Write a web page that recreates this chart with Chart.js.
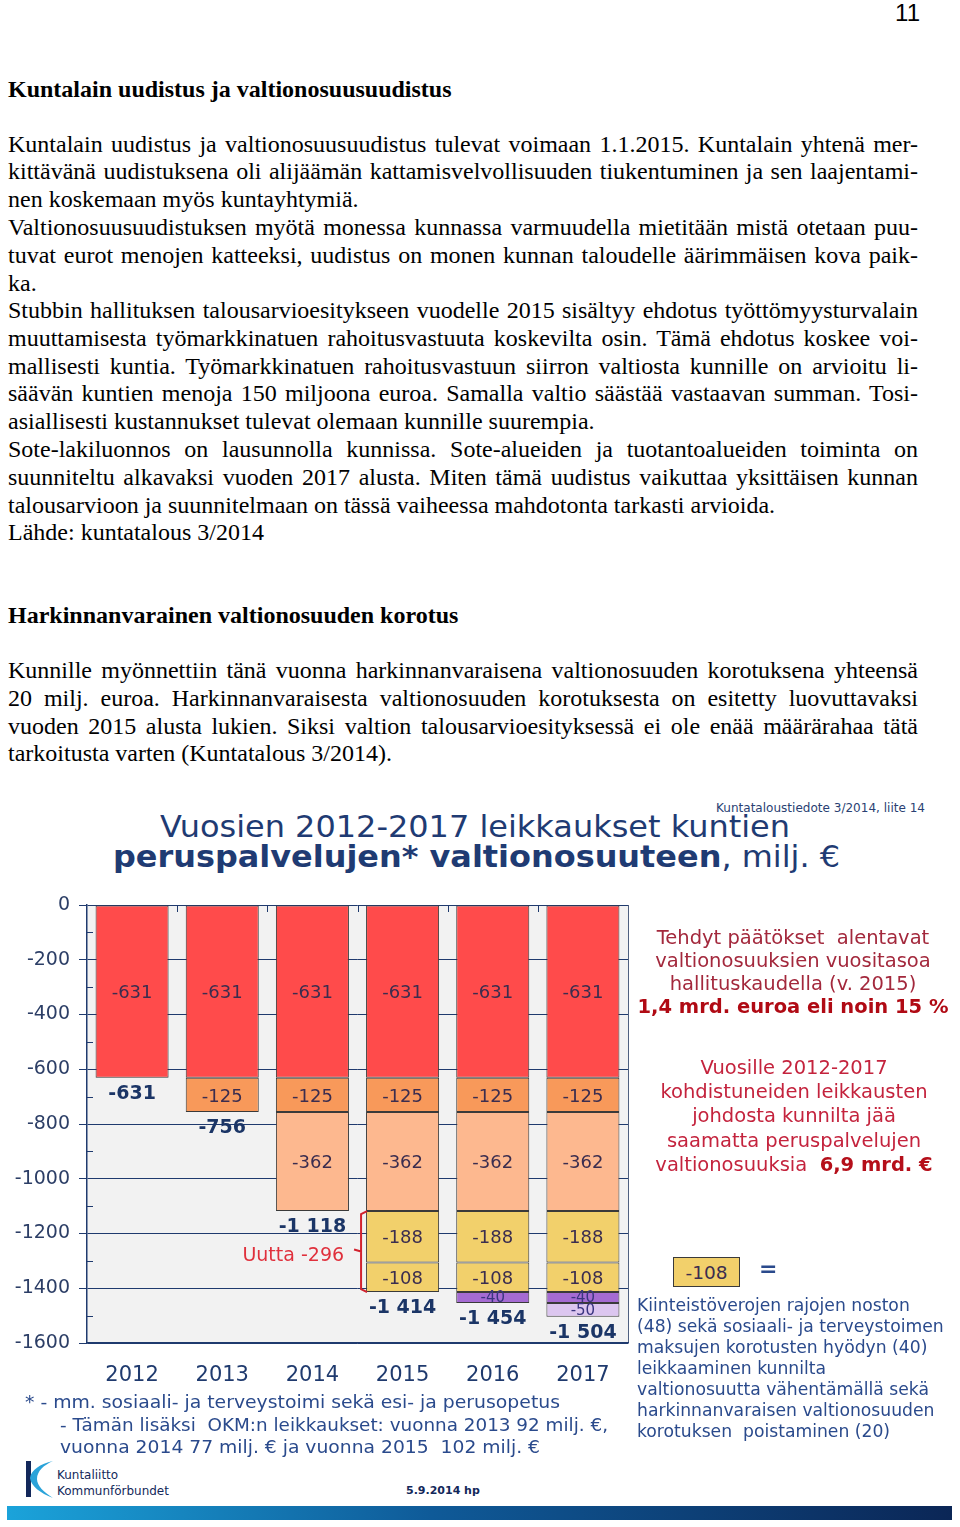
<!DOCTYPE html>
<html>
<head>
<meta charset="utf-8">
<script src="https://cdn.jsdelivr.net/npm/chart.js@4.4.1/dist/chart.umd.min.js"></script>
<style>
  html, body { margin:0; padding:0; background:#fff; }
  body { width:960px; height:1527px; position:relative; overflow:hidden; }
  .l { position:absolute; left:8px; width:910px; font:24px "Liberation Serif", "Times New Roman", serif; line-height:24px; color:#000; white-space:nowrap; }
  .j { text-align:justify; text-align-last:justify; white-space:normal; }
  .h { font-weight:bold; }
  .abs { position:absolute; white-space:nowrap; }
  .ctr { text-align:center; }
  .dv { font-family:"DejaVu Sans", Verdana, sans-serif; }
  .r1 { color:#a3283c; font-size:19.5px; line-height:23px; }
  .r2 { color:#c4233d; font-size:19.5px; line-height:24.2px; }
  .bl { color:#2a4a8c; font-size:17.2px; line-height:21px; }
  .fn { color:#2a4a8c; font-size:18px; line-height:22px; transform-origin:left; }
</style>
</head>
<body>
<div class="abs" style="left:880px; top:-1px; width:40px; text-align:right; font:24px 'Liberation Sans', Arial, sans-serif;">11</div>

<div class="l h" style="top:77px;">Kuntalain uudistus ja valtionosuusuudistus</div>

<div class="l j" style="top:132px;">Kuntalain uudistus ja valtionosuusuudistus tulevat voimaan 1.1.2015. Kuntalain yhtenä mer-</div>
<div class="l j" style="top:159px;">kittävänä uudistuksena oli alijäämän kattamisvelvollisuuden tiukentuminen ja sen laajentami-</div>
<div class="l" style="top:187px;">nen koskemaan myös kuntayhtymiä.</div>
<div class="l j" style="top:215px;">Valtionosuusuudistuksen myötä monessa kunnassa varmuudella mietitään mistä otetaan puu-</div>
<div class="l j" style="top:243px;">tuvat eurot menojen katteeksi, uudistus on monen kunnan taloudelle äärimmäisen kova paik-</div>
<div class="l" style="top:271px;">ka.</div>
<div class="l j" style="top:298px;">Stubbin hallituksen talousarvioesitykseen vuodelle 2015 sisältyy ehdotus työttömyysturvalain</div>
<div class="l j" style="top:326px;">muuttamisesta työmarkkinatuen rahoitusvastuuta koskevilta osin. Tämä ehdotus koskee voi-</div>
<div class="l j" style="top:354px;">mallisesti kuntia. Työmarkkinatuen rahoitusvastuun siirron valtiosta kunnille on arvioitu li-</div>
<div class="l j" style="top:381px;">säävän kuntien menoja 150 miljoona euroa. Samalla valtio säästää vastaavan summan. Tosi-</div>
<div class="l" style="top:409px;">asiallisesti kustannukset tulevat olemaan kunnille suurempia.</div>
<div class="l j" style="top:437px;">Sote-lakiluonnos on lausunnolla kunnissa. Sote-alueiden ja tuotantoalueiden toiminta on</div>
<div class="l j" style="top:465px;">suunniteltu alkavaksi vuoden 2017 alusta. Miten tämä uudistus vaikuttaa yksittäisen kunnan</div>
<div class="l" style="top:493px;">talousarvioon ja suunnitelmaan on tässä vaiheessa mahdotonta tarkasti arvioida.</div>
<div class="l" style="top:520px;">Lähde: kuntatalous 3/2014</div>

<div class="l h" style="top:603px;">Harkinnanvarainen valtionosuuden korotus</div>

<div class="l j" style="top:658px;">Kunnille myönnettiin tänä vuonna harkinnanvaraisena valtionosuuden korotuksena yhteensä</div>
<div class="l j" style="top:686px;">20 milj. euroa. Harkinnanvaraisesta valtionosuuden korotuksesta on esitetty luovuttavaksi</div>
<div class="l j" style="top:714px;">vuoden 2015 alusta lukien. Siksi valtion talousarvioesityksessä ei ole enää määrärahaa tätä</div>
<div class="l" style="top:741px;">tarkoitusta varten (Kuntatalous 3/2014).</div>

<!-- chart image header -->
<div id="t0" class="abs dv fit" data-w="209" style="left:716px; top:801px; font-size:11.5px; color:#2a3f73; transform-origin:left;">Kuntataloustiedote 3/2014, liite 14</div>
<div id="t1" class="abs dv fit" data-w="630" style="left:160px; top:812px; font-size:30px; line-height:30px; color:#1f3b73; transform-origin:left;">Vuosien 2012-2017 leikkaukset kuntien</div>
<div id="t2" class="abs dv fit" data-w="727" style="left:113px; top:842px; font-size:30px; line-height:30px; color:#1f3b73; transform-origin:left;"><b>peruspalvelujen* valtionosuuteen</b>, milj. €</div>

<div style="position:absolute; left:0; top:880px; width:960px; height:520px;">
  <canvas id="c" width="960" height="520"></canvas>
</div>

<!-- right annotations -->
<div class="abs dv ctr r1" style="left:593px; top:926px; width:400px;">Tehdyt päätökset&nbsp; alentavat<br>valtionosuuksien vuositasoa<br>hallituskaudella (v. 2015)<br><b style="color:#b00a14;">1,4 mrd. euroa eli noin 15 %</b></div>
<div class="abs dv ctr r2" style="left:594px; top:1056px; width:400px;">Vuosille 2012-2017<br>kohdistuneiden leikkausten<br>johdosta kunnilta jää<br>saamatta peruspalvelujen<br>valtionosuuksia&nbsp; <b style="color:#b50f1a;">6,9 mrd. €</b></div>

<div class="abs dv" style="left:673px; top:1257px; width:67px; height:30px; background:#f2d06b; border:1px solid #3a3a3a; box-sizing:border-box; text-align:center; font-size:18.5px; line-height:29px; color:#3b2d4f;">-108</div>
<div class="abs dv" style="left:759px; top:1256px; font-size:22px; font-weight:bold; color:#2a4a8c; line-height:26px;">=</div>

<div class="abs dv bl" style="left:637px; top:1295px;">Kiinteistöverojen rajojen noston<br>(48) sekä sosiaali- ja terveystoimen<br>maksujen korotusten hyödyn (40)<br>leikkaaminen kunnilta<br>valtionosuutta vähentämällä sekä<br>harkinnanvaraisen valtionosuuden<br>korotuksen&nbsp; poistaminen (20)</div>

<div class="abs dv fn fit" data-w="535" style="left:25px; top:1391px;">* - mm. sosiaali- ja terveystoimi sekä esi- ja perusopetus</div>
<div class="abs dv fn fit" data-w="548" style="left:60px; top:1414px;">- Tämän lisäksi&nbsp; OKM:n leikkaukset: vuonna 2013 92 milj. €,</div>
<div class="abs dv fn fit" data-w="480" style="left:60px; top:1436px;">vuonna 2014 77 milj. € ja vuonna 2015&nbsp; 102 milj. €</div>

<!-- logo -->
<svg class="abs" style="left:22px; top:1458px;" width="34" height="44" viewBox="0 0 34 44">
  <rect x="4" y="3" width="5" height="36" fill="#13285a"/>
  <path d="M31 3 C18 6 9 12 8 20 C9 28 18 35 31 40 C22 34 15 28 15 21 C15 13 22 7 31 3 Z" fill="#2aa3d9"/>
</svg>
<div class="abs dv" style="left:57px; top:1467px; font-size:13px; line-height:16px; color:#13285a; transform:scaleX(0.92); transform-origin:left;">Kuntaliitto<br>Kommunförbundet</div>
<div class="abs dv" style="left:406px; top:1484px; font-size:11px; font-weight:bold; color:#13285a;">5.9.2014 hp</div>
<div class="abs" style="left:7px; top:1506px; width:945px; height:14px; background:linear-gradient(to right,#1ba3da,#0f5a98 45%,#0b2656);"></div>

<script>
// ---- data ----
const years = ['2012','2013','2014','2015','2016','2017'];
const cutBase     = [-631, -631, -631, -631, -631, -631];
const cut2013     = [null, -125, -125, -125, -125, -125];
const cut2014     = [null, null, -362, -362, -362, -362];
const cutNew188   = [null, null, null, -188, -188, -188];
const cutNew108   = [null, null, null, -108, -108, -108];
const cut2016     = [null, null, null, null, -40, -40];
const cut2017     = [null, null, null, null, null, -50];
const totals      = [-631, -756, -1118, -1414, -1454, -1504];
const yMin = -1600, yMax = 0, yStep = 200;
const newLabel = 'Uutta -296';

// fit header/footnote texts to measured widths
document.querySelectorAll('.fit').forEach(el => {
  const w = el.getBoundingClientRect().width;
  el.style.transform = 'scaleX(' + (parseFloat(el.dataset.w)/w) + ')';
});

const NAVY = '#1f3a6e';
const segFont = '18px "DejaVu Sans", Verdana, sans-serif';

const bgPlugin = {
  id:'bg',
  beforeDraw(chart){
    const {ctx, chartArea:a} = chart;
    ctx.save();
    ctx.fillStyle = '#f2f2f2';
    ctx.fillRect(a.left, a.top, a.right-a.left, a.bottom-a.top);
    ctx.strokeStyle = '#50607f';
    ctx.lineWidth = 1;
    ctx.beginPath(); ctx.moveTo(a.right+0.5, a.top); ctx.lineTo(a.right+0.5, a.bottom); ctx.stroke();
    ctx.restore();
  },
  afterDatasetsDraw(chart){
    const {ctx, chartArea:a, scales:{x,y}} = chart;
    ctx.save();
    // minor ticks on y axis
    ctx.strokeStyle = NAVY; ctx.lineWidth = 1;
    for (let v = yMax - yStep/2; v > yMin; v -= yStep) {
      const py = Math.round(y.getPixelForValue(v)) + 0.5;
      ctx.beginPath(); ctx.moveTo(a.left, py); ctx.lineTo(a.left+6, py); ctx.stroke();
    }
    // top category boundary ticks
    for (let i = 0; i < years.length - 1; i++) {
      const px = Math.round((x.getPixelForValue(i) + x.getPixelForValue(i+1))/2) + 0.5;
      ctx.beginPath(); ctx.moveTo(px, a.top); ctx.lineTo(px, a.top+7); ctx.stroke();
    }
    // segment labels
    ctx.textAlign = 'center'; ctx.textBaseline = 'middle';
    chart.data.datasets.forEach((ds, di) => {
      const meta = chart.getDatasetMeta(di);
      meta.data.forEach((el, i) => {
        const v = ds.data[i];
        if (v === null || v === undefined) return;
        const small = Math.abs(v) < 60;
        ctx.font = small ? '15px "DejaVu Sans", Verdana, sans-serif' : segFont;
        ctx.fillStyle = small ? '#3a3580' : '#3b2d4f';
        ctx.fillText(String(v), el.x, (el.y + el.base)/2 + (small ? 1 : 2));
      });
    });
    // totals
    ctx.font = 'bold 19px "DejaVu Sans", Verdana, sans-serif';
    ctx.fillStyle = '#1b3566';
    const m0 = chart.getDatasetMeta(0);
    totals.forEach((t, i) => {
      const s = String(Math.abs(t));
      const txt = '-' + (s.length > 3 ? s.slice(0, s.length-3) + ' ' + s.slice(-3) : s);
      ctx.fillText(txt, m0.data[i].x, y.getPixelForValue(t) + 16);
    });
    // bracket for new cuts (2015)
    const el15 = chart.getDatasetMeta(3).data[3];
    const bx = el15.x - el15.width/2 - 5;
    const yt = y.getPixelForValue(totals[2]);
    const yb = y.getPixelForValue(totals[3]);
    ctx.strokeStyle = '#d2222e'; ctx.lineWidth = 2;
    ctx.beginPath();
    ctx.moveTo(bx+6, yt); ctx.lineTo(bx, yt+3); ctx.lineTo(bx, yb-3); ctx.lineTo(bx+6, yb);
    ctx.moveTo(bx, (yt+yb)/2); ctx.lineTo(bx-7, (yt+yb)/2 - 2);
    ctx.stroke();
    ctx.fillStyle = '#e0303c';
    ctx.font = '19px "DejaVu Sans", Verdana, sans-serif';
    ctx.textAlign = 'right';
    ctx.fillText(newLabel, bx - 17, (yt+yb)/2 + 4);
    ctx.restore();
  }
};

const seg = (label, data, color) => ({
  label, data, backgroundColor: color, borderColor:'#3a3a3a', borderWidth:1, borderSkipped:false,
  categoryPercentage:1, barPercentage:0.81
});

new Chart(document.getElementById('c'), {
  type:'bar',
  data:{
    labels: years,
    datasets:[
      seg('base', cutBase, '#ff4b4b'),
      seg('2013', cut2013, '#f8995a'),
      seg('2014', cut2014, '#fdb88f'),
      seg('188', cutNew188, '#f2d06b'),
      seg('108', cutNew108, '#f2d06b'),
      seg('2016', cut2016, '#a56bd2'),
      seg('2017', cut2017, '#dcc6ef')
    ]
  },
  options:{
    responsive:false,
    animation:false,
    layout:{ padding:{ top:25, right:332, left:0, bottom:0 } },
    plugins:{ legend:{display:false}, tooltip:{enabled:false}, title:{display:false} },
    scales:{
      x:{
        stacked:true,
        grid:{ display:false, drawTicks:false },
        border:{ display:true, color:NAVY, width:1.5 },
        ticks:{ color:NAVY, font:{ family:'"DejaVu Sans", Verdana, sans-serif', size:21 }, padding:20 },
        afterFit(s){ s.height = 57; }
      },
      y:{
        stacked:true,
        min:yMin, max:yMax,
        ticks:{ stepSize:yStep, color:'#2c3e66', padding:9,
                font:{ family:'"DejaVu Sans", Verdana, sans-serif', size:19 },
                callback:(v) => String(v) },
        grid:{ color:NAVY, lineWidth:1, tickLength:8, drawTicks:true },
        border:{ display:true, color:NAVY, width:1.5 },
        afterFit(s){ s.width = 87; }
      }
    }
  },
  plugins:[bgPlugin]
});
</script>
</body>
</html>
